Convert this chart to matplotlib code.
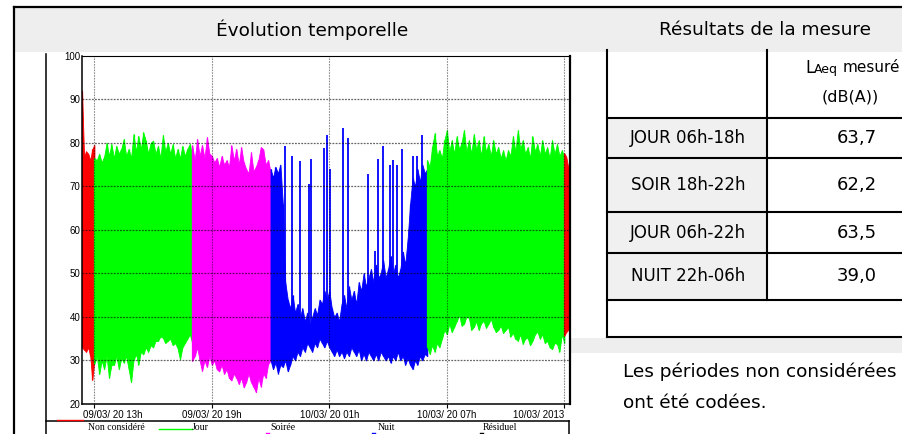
import numpy as np
import matplotlib.pyplot as plt
from matplotlib.patches import Rectangle
from matplotlib.transforms import ScaledTranslation

# time axis in hours since 09/03/20 00h
x_lim = (12.37, 37.29)
x_ticks = [13, 19, 25, 31, 37]
x_ticklabels = ['09/03/ 20 13h', '09/03/ 20 19h', '10/03/ 20 01h',
                '10/03/ 20 07h', '10/03/ 2013']
y_ticks = [20, 30, 40, 50, 60, 70, 80, 90, 100]

# segments: (start h, end h), envelope max / min of the trace, read every ~0.125 h
red1_span = (12.37, 13.0)
red1_hi = [92, 77, 78, 77.5, 76, 78.5, 79.5]
red1_lo = [33, 32.5, 32, 33, 31, 25.5, 30]

green1_span = (13.0, 18.0)
green1_hi = [76.5, 76, 77.5, 75.5, 76.8, 80, 77, 79.7, 76.5, 79.3, 77.5,
             78.6, 80.9, 77, 78.6, 76.5, 82, 78, 81.6, 78.5, 82.4, 80.5,
             77.5, 80, 80.5, 77.5, 79.3, 76.5, 81.8, 78, 80, 77.5, 79.7,
             76.5, 78.6, 76.5, 79.3, 77, 78.6, 79.7, 77]
green1_lo = [29.2, 31, 26.9, 30, 28, 31, 26, 29, 29, 31, 28, 30.5, 29.5,
             31, 28, 25, 30, 31.5, 29, 32, 31.4, 33, 32, 33.5, 33, 34.5,
             34.5, 35.5, 35.2, 34, 34.5, 35, 33.5, 34, 32.8, 30.3, 33, 34,
             35, 36, 34]

mag_span = (18.0, 22.0)
mag_hi = [79.4, 76, 80.9, 77, 79.5, 76.5, 81.3, 77.5, 77, 75.5, 76.5, 74.5,
          77, 75, 76, 74.5, 79.4, 76, 78.6, 75, 79, 75.5, 74, 73, 77.8,
          73.5, 74.5, 76, 79, 78.5, 75, 76, 73.3]
mag_lo = [29.9, 31, 33, 30, 27.6, 30, 28.5, 31, 29, 30, 28, 27.5, 29, 26.9,
          28, 26, 25.4, 27, 26, 24.6, 26, 23.8, 25, 27, 25, 24, 22.7, 26,
          24, 27, 26, 29.2, 30]

blue_span = (22.0, 30.0)
blue_hi = [74, 72, 74.5, 73, 75, 66, 48, 44, 42, 45, 41, 43, 40, 42, 39,
           41, 38, 40, 42, 40.5, 44, 43, 46, 44, 46, 42, 40, 41, 39, 43, 45,
           42, 47, 44, 46, 43, 48, 46, 50, 47, 49, 51, 48, 52, 49, 50, 53,
           49, 51, 54, 50, 52, 49, 51, 55, 52, 58, 66, 72, 70, 74, 71, 75,
           73, 74]
blue_lo = [30, 28, 29.5, 27, 29, 28.5, 30, 27.5, 29, 31, 30, 32, 31, 33, 32,
           34, 33, 32, 34, 33, 35, 34, 33, 34.5, 33, 32, 31, 32.5, 31, 32,
           30.5, 32, 31, 33, 32, 31, 32.5, 30, 31.5, 30, 32, 31, 30, 31.5,
           30, 32, 31, 30, 31, 29.5, 31, 30, 32, 30, 31, 29, 30.5, 29, 28,
           30, 29, 31, 30, 31.5, 31]
spike_h = [22.74, 23.08, 23.5, 23.98, 24.05, 24.73, 24.87, 25.04, 25.69,
           25.97, 26.99, 27.34, 27.51, 27.76, 28.1, 28.26, 28.45, 28.71,
           29.28, 29.47, 29.72]
spike_top = [79.2, 77, 75.8, 70.5, 76.2, 78.9, 81.9, 74, 83.4, 81.1, 72.8,
             55.2, 76.2, 79.2, 75, 76, 75, 78.5, 77, 77, 81.9]

green2_span = (30.0, 37.0)
green2_hi = [76, 74.5, 79, 82.2, 77, 78.3, 76.5, 80.6, 82.9, 78, 80.6, 77.5,
             81.5, 78.5, 80, 82.9, 78, 80.6, 77.5, 82, 78.5, 80.6, 77, 81.5,
             78, 79.7, 77, 80.6, 77.5, 79, 76.5, 78.3, 76, 78.3, 77, 81.5,
             78, 82.9, 78.5, 80.6, 77.5, 79, 76.5, 81.5, 78, 79.7, 77, 80.6,
             77.5, 79, 76.5, 80.6, 77.5, 79.7, 77, 78.3, 76.5]
green2_lo = [33, 31.5, 33.5, 32, 34, 33, 35, 37, 36, 38.4, 36.5, 37.7, 39,
             40.5, 38, 38.4, 40, 39.8, 37, 37.7, 39, 37, 38.5, 39.1, 37.5,
             38.4, 39.5, 37.7, 36.5, 37, 38, 36.3, 37, 37.7, 35.5, 36.3, 35,
             34.5, 36, 33.8, 35, 35.2, 33.5, 34.5, 36, 36.6, 35, 36, 34, 34.5,
             33, 32.6, 34, 33.8, 32, 36, 34]

red2_span = (37.0, 37.29)
red2_hi = [77.6, 76.8, 74.5, 70.6]
red2_lo = [35.7, 36.5, 37, 37.5]

legend_labels = ['Non considéré', 'Jour', 'Soirée', 'Nuit', 'Résiduel']
legend_colors = ['#ff0000', '#00ff00', '#ff00ff', '#0000ff', 'black']

periods = ['JOUR 06h-18h', 'SOIR 18h-22h', 'JOUR 06h-22h', 'NUIT 22h-06h']
laeq = [63.7, 62.2, 63.5, 39.0]

W, H = 903, 434
fig = plt.figure(figsize=(W / 100, H / 100), dpi=100)

bg = fig.add_axes([0, 0, 1, 1])
bg.set_xlim(0, W)
bg.set_ylim(H, 0)
bg.axis('off')

# page frame and header band
bg.add_patch(Rectangle((14, 7), W - 14, 45, color='#eeeeee', lw=0))
bg.plot([14, W], [7, 7], color='black', lw=1.6)
bg.plot([14, 14], [7, H], color='black', lw=1.6)
bg.text(312, 30, 'Évolution temporelle', ha='center', va='center',
        fontsize=13.3, family='DejaVu Sans')
bg.text(765, 30, 'Résultats de la mesure', ha='center', va='center',
        fontsize=13.3, family='DejaVu Sans')

# chart image frame + legend strip
bg.plot([45.7, 45.7], [54, H], color='black', lw=1.1)
bg.plot([46, 569.5], [421, 421], color='black', lw=1.1)
bg.plot([569.5, 569.5], [421, H], color='black', lw=1.1)
leg_x = [116, 200, 283, 386, 500]
leg_line = [(56.7, 83.3, 419.6), (159, 191.7, 429.3), (266, 269.5, 432.5),
            (371.7, 375, 433), (480, 482.7, 433)]
for lab, c, lx, (a, b, yy) in zip(legend_labels, legend_colors, leg_x, leg_line):
    bg.text(lx, 427, lab, ha='center', va='center', fontsize=7,
            family='Liberation Serif')
    bg.plot([a, b], [yy, yy], color=c, lw=1.0)

# table
rows = [118, 158.3, 211.7, 253.3, 299.5]
for i in range(len(periods)):
    bg.add_patch(Rectangle((607, rows[i]), 160, rows[i + 1] - rows[i],
                           color='#f0f0f0', lw=0))
    yc = (rows[i] + rows[i + 1]) / 2
    bg.text(688, yc, periods[i], ha='center', va='center', fontsize=12,
            family='DejaVu Sans')
    bg.text(857, yc, f'{laeq[i]:.1f}'.replace('.', ','), ha='center',
            va='center', fontsize=13, family='DejaVu Sans')
for yy in rows + [336.7]:
    bg.plot([606.7, W], [yy, yy], color='black', lw=1.5)
bg.plot([606.7, 606.7], [50, 336.7], color='black', lw=1.5)
bg.plot([766.7, 766.7], [50, 299.5], color='black', lw=1.5)
bg.text(805, 68, 'L', ha='left', va='center', fontsize=12, family='DejaVu Sans')
bg.text(814, 69.5, 'Aeq', ha='left', va='center', fontsize=9, family='DejaVu Sans')
bg.text(843, 68, 'mesuré', ha='left', va='center', fontsize=11, family='DejaVu Sans')
bg.text(850, 97, '(dB(A))', ha='center', va='center', fontsize=11.5, family='DejaVu Sans')
bg.add_patch(Rectangle((571.5, 337.5), W - 571.5, 15.5, color='#eeeeee', lw=0))
bg.text(623, 372, 'Les périodes non considérées', ha='left', va='center',
        fontsize=13.3, family='DejaVu Sans')
bg.text(623, 403, 'ont été codées.', ha='left', va='center',
        fontsize=13.3, family='DejaVu Sans')

# time history
ax = fig.add_axes([82 / W, 1 - 404 / H, (570 - 82) / W, (404 - 55.7) / H])
ax.set_xlim(*x_lim)
ax.set_ylim(20, 100)


def draw_seg(span, hi, lo, color):
    t = np.linspace(span[0], span[1], len(hi))
    ax.fill_between(t, lo, hi, color=color, lw=0.6, edgecolor=color, zorder=2)
    ax.vlines(t, lo, hi, color=color, lw=0.9, zorder=2)


draw_seg(red1_span, red1_hi, red1_lo, '#ff0000')
draw_seg(green1_span, green1_hi, green1_lo, '#00ff00')
draw_seg(mag_span, mag_hi, mag_lo, '#ff00ff')
draw_seg(blue_span, blue_hi, blue_lo, '#0000ff')
ax.vlines(spike_h, 38, spike_top, color='#0000ff', lw=1.3, zorder=2)
draw_seg(green2_span, green2_hi, green2_lo, '#00ff00')
draw_seg(red2_span, red2_hi, red2_lo, '#ff0000')

for v in y_ticks[1:-1]:
    ax.axhline(v, color='black', alpha=0.6, lw=0.9, ls=(0, (1.5, 1)), zorder=4)
for h in x_ticks:
    ax.axvline(h, color='black', alpha=0.45, lw=0.8, ls=(0, (1.5, 1)), zorder=4)

ax.set_xticks(x_ticks)
ax.set_xticklabels(x_ticklabels)
ax.set_yticks(y_ticks)
ax.tick_params(direction='out', length=3, width=0.8, labelsize=7, pad=1)
for lab in ax.get_xticklabels() + ax.get_yticklabels():
    lab.set_family('Liberation Sans')
labs = ax.get_xticklabels()
labs[0].set_ha('left')
labs[0].set_transform(labs[0].get_transform()
                      + ScaledTranslation(-0.116, 0, fig.dpi_scale_trans))
labs[-1].set_ha('right')
ax.tick_params(axis='y', length=0, pad=1)
ax.spines['left'].set_linewidth(1.1)
ax.spines['bottom'].set_linewidth(1.1)
ax.spines['top'].set_linewidth(0.8)
ax.spines['right'].set_linewidth(1.6)

fig.savefig('out.png', dpi=100)
